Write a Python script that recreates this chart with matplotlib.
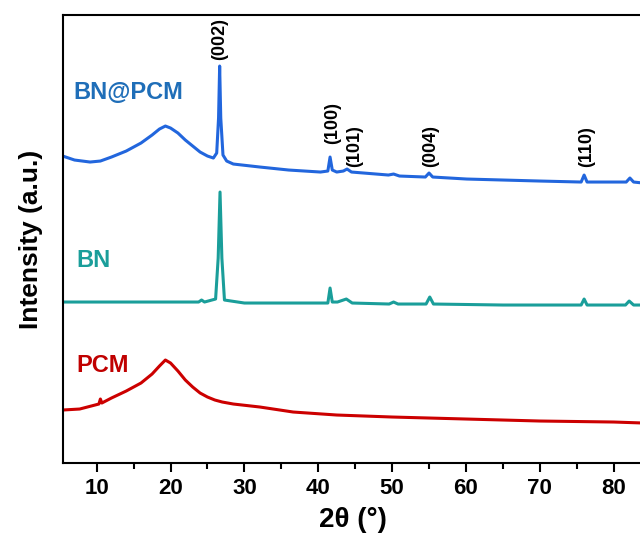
import matplotlib
matplotlib.use('Agg')
import matplotlib.pyplot as plt

plt.rcParams['font.family'] = ['Liberation Sans', 'DejaVu Sans']
plt.rcParams['font.weight'] = 'bold'

# valores (2theta, intensidade em u.a.)
tt_bnpcm = [5.4, 7.0, 9.1, 10.5, 12.0, 14.0, 16.0, 17.5, 18.5, 19.3, 20.0, 21.0, 22.0, 23.0, 24.0,
            25.0, 25.8, 26.25, 26.5, 26.65, 26.8, 27.1, 27.6, 28.5, 32.1, 36.0, 40.3, 41.3, 41.6,
            41.9, 42.5, 43.4, 43.9, 44.5, 49.5, 50.2, 51.0, 54.5, 55.0, 55.5, 60.1, 70.0, 75.6,
            76.0, 76.4, 81.7, 82.2, 82.7, 84.0]
i_bnpcm = [307, 303, 301, 302, 306, 312, 320, 328, 334, 337, 335, 330, 323, 317, 311,
           307, 305, 310, 345, 397, 345, 308, 302, 299, 296, 293, 291, 292, 306,
           293, 291, 292, 294, 291, 288, 289, 287, 286, 290, 286, 284, 282, 281,
           288, 281, 281, 285, 281, 280]

tt_bn = [5.4, 15.0, 23.8, 24.2, 24.6, 26.1, 26.45, 26.7, 26.95, 27.3, 30.0, 40.0, 41.3, 41.6, 41.9,
         42.6, 43.8, 44.6, 49.6, 50.2, 50.8, 54.6, 55.1, 55.6, 65.0, 75.6, 76.0, 76.4, 81.6, 82.1,
         82.7, 84.0]
i_bn = [161, 161, 161, 163, 161, 164, 205, 271, 205, 163, 160, 160, 160, 175, 161,
        161, 164, 160, 159, 161, 159, 159, 166, 159, 158, 158, 164, 158, 158, 162,
        158, 158]

tt_pcm = [5.4, 7.7, 10.3, 10.5, 10.7, 12.0, 14.0, 16.0, 17.5, 18.5, 19.3, 20.0, 21.0, 22.0, 23.0,
          24.0, 25.0, 26.0, 27.0, 28.5, 32.1, 36.6, 42.5, 50.0, 60.0, 70.0, 80.0, 84.0]
i_pcm = [53, 54, 59, 64, 60, 65, 72, 80, 89, 97, 103, 100, 92, 83, 76,
         70, 66, 63, 61, 59, 56, 51, 48, 46, 44, 42, 41, 40]

picos = ['(002)', '(100)', '(101)', '(004)', '(110)']
picos_x = [26.7, 41.9, 44.9, 55.2, 76.4]
picos_y = [403, 319, 296, 296, 296]

fig = plt.figure(figsize=(6.4, 5.43), dpi=100)
ax = fig.add_axes([0.098, 0.1473, 0.907, 0.825])

ax.plot(tt_bnpcm, i_bnpcm, color='#2266dd', lw=2.2)
ax.plot(tt_bn, i_bn, color='#1a9e9a', lw=2.2)
ax.plot(tt_pcm, i_pcm, color='#cc0000', lw=2.2)

ax.text(6.8, 371, 'BN@PCM', color='#1f6eb8', fontsize=17, fontweight='bold', va='center')
ax.text(7.3, 203, 'BN', color='#1a9e9a', fontsize=17, fontweight='bold', va='center')
ax.text(7.3, 98, 'PCM', color='#c00000', fontsize=17, fontweight='bold', va='center')

for lab, x, y in zip(picos, picos_x, picos_y):
    ax.text(x, y, lab, rotation=90, ha='center', va='bottom', fontsize=13, fontweight='bold')

ax.set_xlim(5.4, 84)
ax.set_ylim(0, 448)
ax.set_xticks([10, 20, 30, 40, 50, 60, 70, 80])
ax.set_xticks([15, 25, 35, 45, 55, 65, 75], minor=True)
ax.set_yticks([])
ax.tick_params(axis='x', which='major', length=6.5, width=1.5, labelsize=16, pad=4)
ax.tick_params(axis='x', which='minor', length=4, width=1.5)
for s in ax.spines.values():
    s.set_linewidth(1.5)
ax.set_xlabel('2θ (°)', fontsize=20, fontweight='bold', labelpad=6)
ax.set_ylabel('Intensity (a.u.)', fontsize=19, fontweight='bold', labelpad=14)

fig.savefig('out.png', dpi=100)
